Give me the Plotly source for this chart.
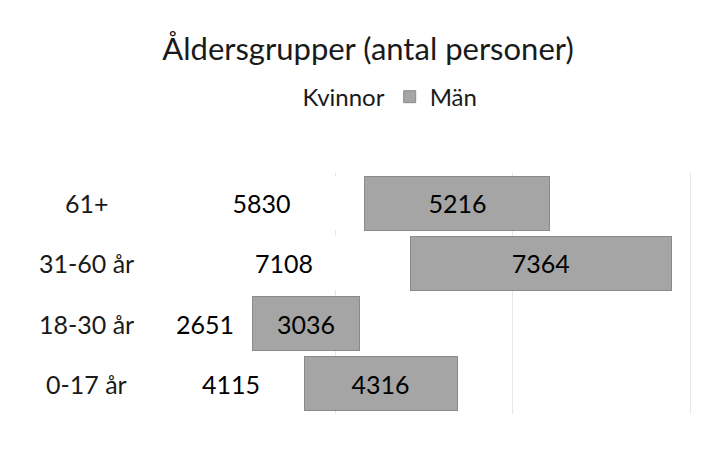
"""Åldersgrupper chart, stacked horizontal bars."""

import plotly.graph_objects as go

# data
categories = ['0-17 år', '18-30 år', '31-60 år', '61+']
kvinnor = [4115, 2651, 7108, 5830]
man = [4316, 3036, 7364, 5216]

FONT = 'Lato, Calibri, Noto Sans, sans-serif'

fig = go.Figure()

fig.add_trace(go.Bar(
    y=categories,
    x=kvinnor,
    name='Kvinnor',
    orientation='h',
    marker=dict(color='#FFFFFF', line=dict(width=0)),
    text=kvinnor,
    textposition='inside',
    insidetextanchor='middle',
    textfont=dict(size=25, color='#000000'),
))

fig.add_trace(go.Bar(
    y=categories,
    x=man,
    name='Män',
    orientation='h',
    marker=dict(color='#A5A5A5', line=dict(color='#8A8A8A', width=1)),
    text=man,
    textposition='inside',
    insidetextanchor='middle',
    textfont=dict(size=25, color='#000000'),
))

# category labels, centred like in the original
for cat in categories:
    fig.add_annotation(
        x=-0.13, xref='paper', xanchor='center',
        y=cat, yref='y',
        text=cat, showarrow=False,
        font=dict(size=25, color='#1A1A1A'),
    )

fig.update_layout(
    title=dict(
        text='Åldersgrupper (antal personer)',
        x=0.5, xanchor='center',
        y=0.91, yanchor='middle',
        font=dict(size=31, color='#1A1A1A', family=FONT),
    ),
    barmode='stack',
    bargap=0.1,
    width=720,
    height=461,
    margin=dict(l=150, r=20, t=165, b=55),
    paper_bgcolor='white',
    plot_bgcolor='white',
    font=dict(family=FONT, size=25, color='#1A1A1A'),
    legend=dict(
        orientation='h',
        x=0.39, xanchor='center',
        y=1.315, yanchor='middle',
        font=dict(size=24),
        traceorder='normal',
        itemwidth=30,
    ),
    uniformtext=dict(minsize=22, mode='show'),
)

fig.update_xaxes(
    range=[0, 15500],
    showticklabels=False,
    showgrid=True,
    gridcolor='#E6E6E6',
    dtick=5000,
    zeroline=False,
    showline=False,
)
fig.update_yaxes(
    showgrid=False,
    showline=False,
    showticklabels=False,
    ticks='',
)

fig.write_html("out.html")
